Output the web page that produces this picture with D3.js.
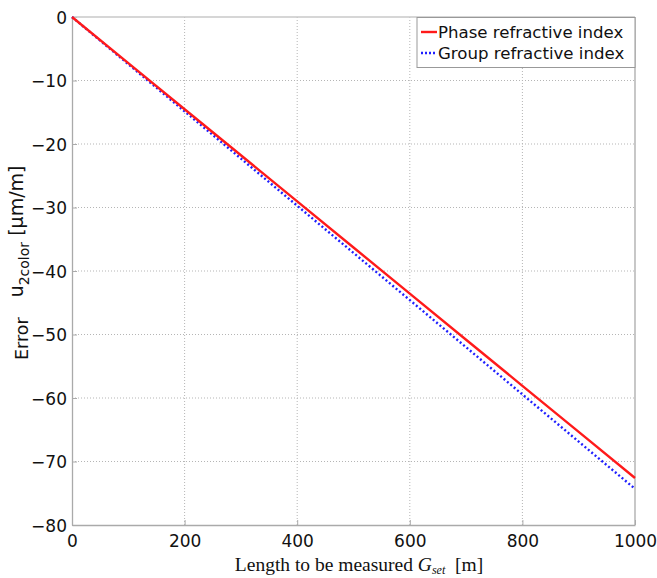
<!DOCTYPE html>
<html>
<head>
<meta charset="utf-8">
<script src="https://cdn.jsdelivr.net/npm/d3@7"></script>
<style>
  html, body { margin: 0; padding: 0; background: #fff; }
  svg { display: block; }
</style>
</head>
<body>
<svg id="chart" width="657" height="578"></svg>
<script>
// Measured length (m) and the resulting two-colour error (µm/m)
const lengths = [0, 100, 200, 300, 400, 500, 600, 700, 800, 900, 1000];
const phaseError = [0, -7.26, -14.52, -21.78, -29.04, -36.30, -43.56, -50.82, -58.08, -65.34, -72.6];
const groupError = [0, -7.43, -14.86, -22.29, -29.72, -37.15, -44.58, -52.01, -59.44, -66.87, -74.3];
const xTicks = [0, 200, 400, 600, 800, 1000];
const yTicks = [0, -10, -20, -30, -40, -50, -60, -70, -80];
const seriesNames = ["Phase refractive index", "Group refractive index"];

const svg = d3.select("#chart");
const m = { left: 72, right: 22, top: 17, bottom: 53 };
const W = 657, H = 578;

const x = d3.scaleLinear().domain([0, 1000]).range([m.left, W - m.right]);
const y = d3.scaleLinear().domain([-80, 0]).range([H - m.bottom, m.top]);

const fmt = d => (d < 0 ? "\u2212" + Math.abs(d) : String(d));
const sans = "'DejaVu Sans', Arial, sans-serif";

// dotted grid
const grid = svg.append("g");
grid.selectAll("line.gx").data(xTicks.slice(1, -1)).join("line")
  .attr("x1", d => x(d)).attr("x2", d => x(d))
  .attr("y1", y(0)).attr("y2", y(-80))
  .attr("stroke", "#b5b5b5").attr("stroke-width", 1).attr("stroke-dasharray", "1,2");
grid.selectAll("line.gy").data(yTicks.slice(1, -1)).join("line")
  .attr("x1", x(0)).attr("x2", x(1000))
  .attr("y1", d => y(d)).attr("y2", d => y(d))
  .attr("stroke", "#b5b5b5").attr("stroke-width", 1).attr("stroke-dasharray", "1,2");

// axes (ticks point inward)
const xAxis = svg.append("g").attr("transform", `translate(0,${y(-80)})`)
  .call(d3.axisBottom(x).tickValues(xTicks).tickFormat(fmt).tickSizeInner(-5).tickSizeOuter(0).tickPadding(6));
const yAxis = svg.append("g").attr("transform", `translate(${x(0)},0)`)
  .call(d3.axisLeft(y).tickValues(yTicks).tickFormat(fmt).tickSizeInner(-5).tickSizeOuter(0).tickPadding(5));
[xAxis, yAxis].forEach(a => {
  a.select(".domain").attr("stroke", "#aaa").attr("stroke-width", 1.3);
  a.selectAll(".tick line").attr("stroke", "#aaa");
  a.selectAll(".tick text").attr("fill", "#111").style("font-family", sans).style("font-size", "17px");
});
xAxis.selectAll(".tick text").attr("dy", "0.95em");
yAxis.selectAll(".tick text").attr("dy", "0.36em");

// top and right frame
svg.append("line").attr("x1", x(0)).attr("x2", x(1000)).attr("y1", y(0)).attr("y2", y(0))
  .attr("stroke", "#c8c8c8").attr("stroke-width", 1.3);
svg.append("line").attr("x1", x(1000)).attr("x2", x(1000)).attr("y1", y(0)).attr("y2", y(-80))
  .attr("stroke", "#aaa").attr("stroke-width", 1.3);

// series
const line = d3.line().x(d => x(d[0])).y(d => y(d[1]));
svg.append("path").datum(lengths.map((l, i) => [l, groupError[i]]))
  .attr("d", line).attr("fill", "none").attr("stroke", "#1f1fff")
  .attr("stroke-width", 2.4).attr("stroke-dasharray", "2,2.4");
svg.append("path").datum(lengths.map((l, i) => [l, phaseError[i]]))
  .attr("d", line).attr("fill", "none").attr("stroke", "#ff1a1a")
  .attr("stroke-width", 2.4);

// legend
const lg = svg.append("g");
lg.append("rect").attr("x", 417).attr("y", 17.5).attr("width", 218).attr("height", 50)
  .attr("fill", "#fff").attr("stroke", "#999").attr("stroke-width", 1);
const legendItems = [
  { name: seriesNames[0], color: "#ff1a1a", dash: null, cy: 32 },
  { name: seriesNames[1], color: "#1f1fff", dash: "2,2", cy: 53 }
];
legendItems.forEach(it => {
  lg.append("line").attr("x1", 421).attr("x2", 437).attr("y1", it.cy).attr("y2", it.cy)
    .attr("stroke", it.color).attr("stroke-width", 2.4).attr("stroke-dasharray", it.dash);
  lg.append("text").attr("x", 438).attr("y", it.cy).attr("dy", "0.36em")
    .style("font-family", sans).style("font-size", "16.6px").attr("fill", "#111").text(it.name);
});

// x-axis title
const xt = svg.append("text").attr("x", 359).attr("y", 571).attr("text-anchor", "middle")
  .style("font-family", "'Liberation Serif', 'Times New Roman', serif").style("font-size", "19.5px").attr("fill", "#111");
xt.append("tspan").text("Length to be measured ");
xt.append("tspan").style("font-style", "italic").text("G");
xt.append("tspan").style("font-style", "italic").style("font-size", "12px").attr("dy", 3).text("set");
xt.append("tspan").attr("dy", -3).text("\u2002[m]");

// y-axis title
const yt = svg.append("text").attr("transform", "translate(28,360) rotate(-90)")
  .attr("text-anchor", "start").style("font-family", sans).attr("fill", "#111");
yt.append("tspan").style("font-size", "17.5px").text("Error");
yt.append("tspan").style("font-size", "19px").attr("dx", 20).attr("dy", -5).text("u");
yt.append("tspan").style("font-size", "14px").attr("dy", 6).text("2color");
yt.append("tspan").style("font-size", "19px").attr("dy", -6).text(" [\u03bcm/m]");
</script>
</body>
</html>
